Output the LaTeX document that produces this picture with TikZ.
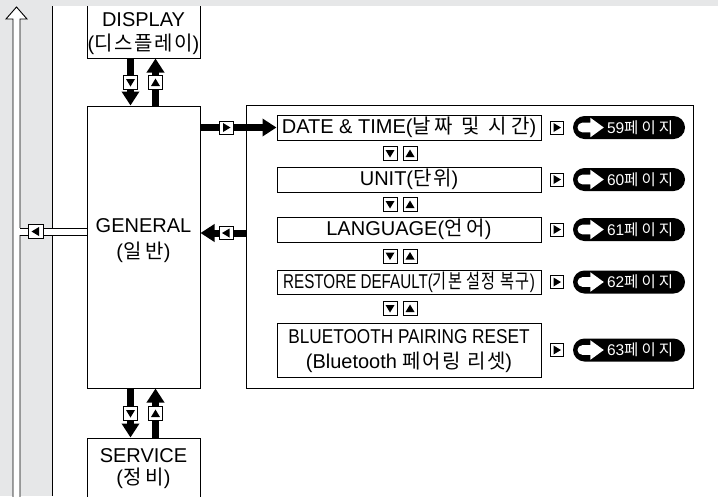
\documentclass[tikz,border=0pt]{standalone}
\usepackage{fontspec}
\setmainfont{Liberation Sans}
\newfontfamily\kr{Noto Sans CJK KR}[LetterSpace=8]
\newfontfamily\krw{Noto Sans CJK KR}[LetterSpace=20]
\usetikzlibrary{arrows.meta}
\definecolor{bggray}{RGB}{230,231,232}
\tikzset{
  box/.style={draw=black, line width=1pt, fill=white, inner sep=0pt},
  lbl/.style={inner sep=0pt, font=\fontsize{20}{22}\selectfont},
  thickarrow/.style={line width=7pt, -{Triangle[length=14pt,width=17pt]}},
  tribox/.style={draw=black, line width=0.9pt, fill=white, minimum width=14pt, minimum height=14pt, inner sep=0pt},
  pill/.style={fill=black, rounded corners=11.5pt, minimum width=112pt, minimum height=23pt, inner sep=0pt},
  pilltext/.style={text=white, inner sep=0pt, anchor=west, font=\fontsize{15.5}{17}\selectfont},
  thin/.style={line width=0.9pt},
}
\newcommand\tridown[1]{\fill (#1) +(-4.5,-3.5) -- +(4.5,-3.5) -- +(0,4) -- cycle;}
\newcommand\triup[1]{\fill (#1) +(-4.5,3.5) -- +(4.5,3.5) -- +(0,-4) -- cycle;}
\newcommand\triright[1]{\fill (#1) +(-3.5,-4.5) -- +(-3.5,4.5) -- +(4,0) -- cycle;}
\newcommand\trileft[1]{\fill (#1) +(3.5,-4.5) -- +(3.5,4.5) -- +(-4,0) -- cycle;}
\newcommand\pagepill[3]{% name, y, number
  \node[tribox, minimum width=13pt, minimum height=13pt] (#1t) at (557,#2) {};
  \triright{#1t}
  \node[pill] (#1) at (629,#2) {};
  \fill[white, shift={(#1.west)}] (9.5,-4.8) -- (17.5,-4.8) -- (17.5,-9.8) -- (31,0) -- (17.5,9.8) -- (17.5,4.8) -- (9.5,4.8) arc (90:270:4.8) -- cycle;
  \node[pilltext] (#1l) at ([xshift=34pt]#1.west) {#3{\krw 페이지}};
}
\begin{document}
\begin{tikzpicture}[x=1pt,y=-1pt]
\useasboundingbox (0,0) rectangle (718,496);
\clip (0,0) rectangle (718,496);
\fill[white] (0,0) rectangle (718,496);
% left gray column
\fill[bggray] (0,0) rectangle (52,496);
\draw[thin] (52,0) -- (52,496);
% hollow vertical arrow
\draw[thin, fill=white] (13,500) -- (13,19) -- (6,19) -- (16.5,7) -- (27,19) -- (20,19) -- (20,500);
% main boxes
\node[box, minimum width=113pt, minimum height=68pt] (display) at (143.5,24) {};
\node[box, minimum width=113pt, minimum height=282pt] (general) at (143.5,247) {};
\node[box, minimum width=113pt, minimum height=72pt] (service) at (143.5,474) {};
\node[lbl] (displayt) at (143.5,19.5) {DISPLAY};
\node[lbl] (displayk) at (143.5,44) {({\kr 디스플레이})};
\node[lbl] (generalt) at (143.5,226) {GENERAL};
\node[lbl] (generalk) at (143.5,252) {({\krw 일반})};
\node[lbl] (servicet) at (143.5,455.5) {SERVICE};
\node[lbl] (servicek) at (143.5,478) {({\krw 정비})};
% hollow branch into GENERAL
\coordinate (vbranch) at (20,231.5);
\fill[white] (19.4,228) rectangle (general.west |- 0,235);
\draw[thin] (vbranch |- 0,228) -- (general.west |- 0,228);
\draw[thin] (vbranch |- 0,235) -- (general.west |- 0,235);
\node[tribox, minimum width=15pt] (bl) at (35.5,231.5) {};
\trileft{bl}
% right panel
\node[box, minimum width=447pt, minimum height=283pt] (panel) at (469.5,246.5) {};
\node[box, minimum width=264pt, minimum height=25pt] (date) at (409,127.5) {};
\node[box, minimum width=264pt, minimum height=25pt] (unit) at (409,179.5) {};
\node[box, minimum width=264pt, minimum height=25pt] (lang) at (409,229.5) {};
\node[box, minimum width=264pt, minimum height=24pt] (rest) at (409,282) {};
\node[box, minimum width=264pt, minimum height=54pt] (bt) at (409,350) {};
\node[lbl] (datet) at (date) {DATE \& TIME({\krw 날짜 및 시간})};
\node[lbl] (unitt) at (unit) {UNIT({\kr 단위})};
\node[lbl] (langt) at (lang) {LANGUAGE({\krw 언어})};
\node[lbl] (restt) at (rest) {\scalebox{0.76}[1]{RESTORE DEFAULT({\kr 기본 설정 복구})}};
\node[lbl] (btt1) at (409,337) {\scalebox{0.86}[1]{BLUETOOTH PAIRING RESET}};
\node[lbl] (btt2) at (409,362) {(Bluetooth {\kr 페어링 리셋})};
% up/down boxes between items
\foreach \yy/\nm in {153.5/a,204.5/b,256/c,308.5/d}{
  \node[tribox] (dn\nm) at (390,\yy) {};
  \tridown{dn\nm}
  \node[tribox] (up\nm) at (410,\yy) {};
  \triup{up\nm}
}
% page pills
\pagepill{pa}{127.5}{59}
\pagepill{pb}{179.5}{60}
\pagepill{pc}{229.5}{61}
\pagepill{pd}{282}{62}
\pagepill{pe}{350}{63}
% thick arrows DISPLAY <-> GENERAL
\draw[thickarrow] ([xshift=-13pt]display.south) -- ([xshift=-13pt]general.north);
\draw[thickarrow] ([xshift=12pt]general.north) -- ([xshift=12pt]display.south);
\node[tribox] (d1) at (130.5,82.5) {}; \tridown{d1}
\node[tribox] (u1) at (155.5,82.5) {}; \triup{u1}
% GENERAL <-> SERVICE
\draw[thickarrow] ([xshift=-13pt]general.south) -- ([xshift=-13pt]service.north);
\draw[thickarrow] ([xshift=12pt]service.north) -- ([xshift=12pt]general.south);
\node[tribox] (d2) at (130.5,413.5) {}; \tridown{d2}
\node[tribox] (u2) at (155.5,413.5) {}; \triup{u2}
% GENERAL -> DATE
\draw[thickarrow] (general.east |- date.west) -- (date.west);
\node[tribox, minimum height=13pt] (r1) at (226.5,127.5) {}; \triright{r1}
% panel -> GENERAL
\draw[thickarrow] ([yshift=13.5pt]panel.west) -- ([yshift=14pt]general.east);
\node[tribox, minimum height=13pt] (l1) at (226,233) {}; \trileft{l1}
% top gray band
\fill[bggray] (0,0) rectangle (718,6);
\end{tikzpicture}
\end{document}
